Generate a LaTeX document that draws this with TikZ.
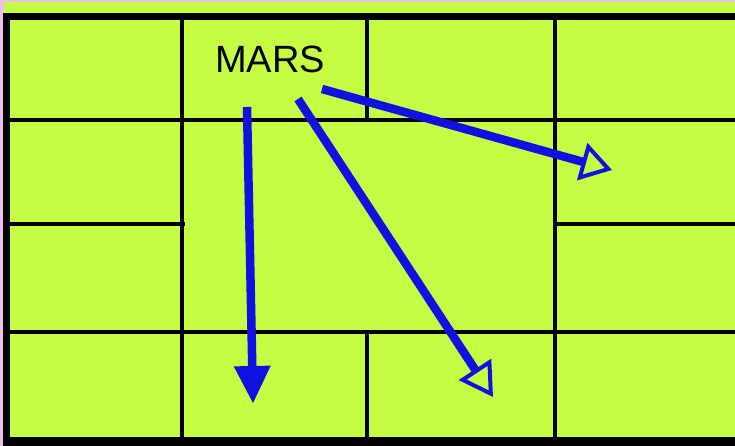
\documentclass[tikz,border=0pt]{standalone}
\usepackage{fontspec}
\setmainfont{Liberation Sans}
\usetikzlibrary{arrows.meta}
\definecolor{bgpink}{RGB}{238,190,238}
\definecolor{fieldgreen}{RGB}{197,252,68}
\definecolor{arrowblue}{RGB}{16,16,225}
\begin{document}
\begin{tikzpicture}[x=1bp,y=-1bp,
  gridline/.style={black,line width=3.5bp},
  borderline/.style={black,line width=7bp},
  movearrow/.style={arrowblue,line width=8.5bp},
  label/.style={inner sep=0pt,font=\fontsize{38bp}{40bp}\selectfont}]
\useasboundingbox (0,0) rectangle (735,446);
\fill[bgpink] (0,0) rectangle (735,446);
\fill[fieldgreen] (3.5,1.8) rectangle (735,446);
% inner grid
\draw[gridline] (182,20) -- (182,437);
\draw[gridline] (555,20) -- (555,437);
\draw[gridline] (367,20) -- (367,120);
\draw[gridline] (367,331) -- (367,437);
\draw[gridline] (10,120) -- (735,120);
\draw[gridline] (10,332) -- (735,332);
\draw[gridline] (10,224) -- (185,224);
\draw[gridline] (555,224) -- (735,224);
% border
\draw[borderline] (6.5,13) -- (6.5,446);
\draw[black,line width=7.5bp] (3,16.5) -- (735,16.5);
\draw[black,line width=9bp] (3,441.5) -- (735,441.5);
% label
\node[label,anchor=base] (mars) at (270,73) {MARS};
% arrows
\coordinate (s1) at (247,107);
\coordinate (e1) at (253,403);
\coordinate (s2) at (298,99);
\coordinate (e2) at (493,397);
\coordinate (s3) at (322,89);
\coordinate (e3) at (612,170);
\draw[movearrow,-{Triangle[length=37bp,width=37bp,line width=0bp]}] (s1) -- (e1);
\draw[movearrow,-{Triangle[open,length=33bp,width=38bp,line width=4bp]}] (s2) -- (e2);
\draw[movearrow,-{Triangle[open,length=31bp,width=38bp,line width=4bp]}] (s3) -- (e3);
\end{tikzpicture}
\end{document}
